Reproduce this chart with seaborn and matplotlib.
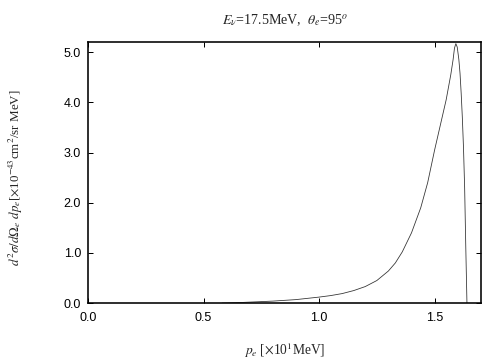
import matplotlib
matplotlib.use("Agg")
import matplotlib.pyplot as plt
import seaborn as sns
import pandas as pd

p_e = [0.58, 0.65, 0.70, 0.80, 0.90, 1.00, 1.05, 1.10, 1.15, 1.20, 1.25, 1.30, 1.33,
       1.36, 1.40, 1.44, 1.47, 1.50, 1.53, 1.55, 1.57, 1.58, 1.586, 1.592, 1.598,
       1.605, 1.61, 1.615, 1.62, 1.625, 1.63, 1.635, 1.64]
xsec = [0.0, 0.01, 0.02, 0.04, 0.07, 0.12, 0.15, 0.19, 0.25, 0.33, 0.45, 0.64, 0.80,
        1.02, 1.40, 1.90, 2.40, 3.05, 3.65, 4.05, 4.55, 4.85, 5.08, 5.17, 5.10,
        4.85, 4.58, 4.18, 3.70, 3.10, 2.30, 1.10, 0.0]

df = pd.DataFrame({"p": p_e, "s": xsec})

sns.set_style("ticks")
plt.rcParams["mathtext.fontset"] = "stix"
plt.rcParams["font.family"] = ["Liberation Sans", "DejaVu Sans"]

fig = plt.figure(figsize=(7, 5), dpi=72)
ax = fig.add_axes([0.1746, 0.158, 0.7794, 0.725])
sns.lineplot(data=df, x="p", y="s", ax=ax, color="#333333", linewidth=0.8,
             sort=False, estimator=None)

ax.set_xlim(0, 1.7)
ax.set_ylim(0, 5.2)
ax.set_xticks([0.0, 0.5, 1.0, 1.5])
ax.set_xticklabels(["0.0", "0.5", "1.0", "1.5"])
ax.set_yticks([0, 1, 2, 3, 4, 5])
ax.set_yticklabels(["0.0", "1.0", "2.0", "3.0", "4.0", "5.0"])
ax.tick_params(direction="in", length=5, width=1, top=True, right=True,
               labelsize=12.5, colors="black")
ax.tick_params(axis="x", pad=9)
ax.tick_params(axis="y", pad=7)
ax.set_xlabel("")
ax.set_ylabel("")
for s in ax.spines.values():
    s.set_linewidth(1.6)
    s.set_color("black")

serif = ["Liberation Serif", "DejaVu Serif"]
ax.set_title(r"$E_\nu$=17.5MeV,  $\theta_e$=95$^o$", fontsize=14, family=serif, pad=18)
ax.set_xlabel(r"$p_e$ [$\times$10$^1$MeV]", fontsize=13.5, family=serif)
ax.set_ylabel(r"$d^2\sigma/d\Omega_e\ dp_e$[$\times$10$^{-43}$cm$^2$/sr MeV]",
              fontsize=13, family=serif)
ax.xaxis.set_label_coords(0.5, -0.145)
ax.yaxis.set_label_coords(-0.16, 0.48)

fig.savefig("out.png", dpi=72)
